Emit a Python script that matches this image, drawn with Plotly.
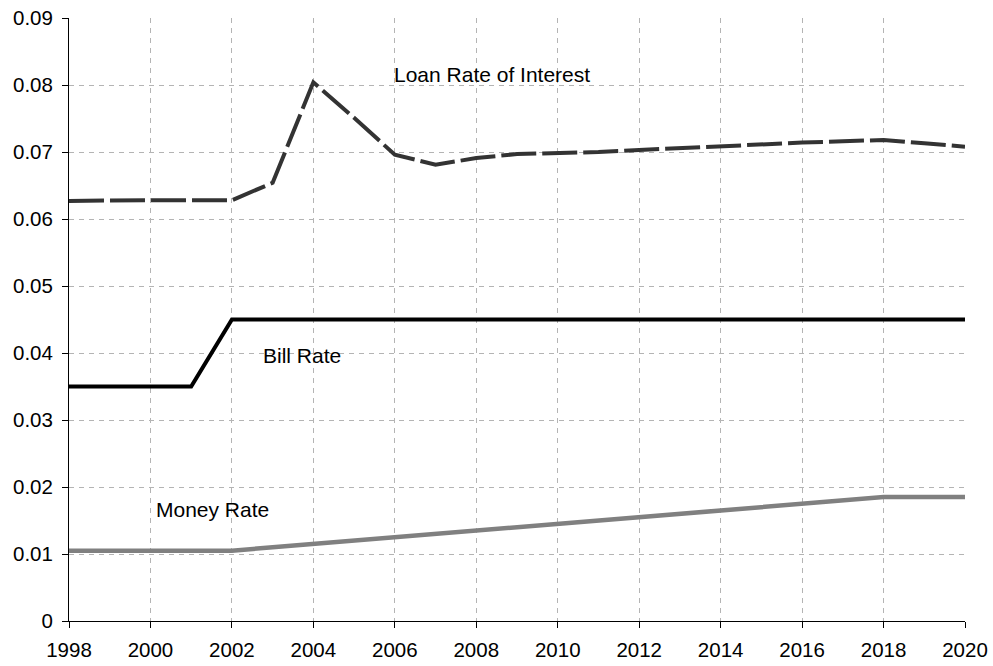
import plotly.graph_objects as go

years = list(range(1998, 2021))
loan_rate = [0.0627, 0.0628, 0.0628, 0.0628, 0.0628, 0.0654, 0.0804, 0.0751, 0.0696,
             0.0681, 0.0691, 0.0697, 0.0698, 0.0700, 0.0703, 0.0706, 0.0709, 0.0712,
             0.0714, 0.0716, 0.0718, 0.0713, 0.0708]
bill_rate = [0.035, 0.035, 0.035, 0.035] + [0.045] * 19
money_rate = [0.0105] * 5 + [0.0105 + 0.0005 * i for i in range(1, 17)] + [0.0185, 0.0185]

labels = ["Loan Rate of Interest", "Bill Rate", "Money Rate"]
label_x = [2005.92, 2002.72, 2000.09]
label_y = [0.0815, 0.0396, 0.0166]

xticks = list(range(1998, 2021, 2))
yticks = [0, 0.01, 0.02, 0.03, 0.04, 0.05, 0.06, 0.07, 0.08, 0.09]
ytick_text = ["0", "0.01", "0.02", "0.03", "0.04", "0.05", "0.06", "0.07", "0.08", "0.09"]

FONT = "Liberation Sans, Arial, sans-serif"

fig = go.Figure()
fig.add_trace(go.Scatter(x=years, y=money_rate, mode="lines",
                         line=dict(color="#808080", width=4.5), name="Money Rate"))
fig.add_trace(go.Scatter(x=years, y=bill_rate, mode="lines",
                         line=dict(color="#000000", width=4), name="Bill Rate"))
fig.add_trace(go.Scatter(x=years, y=loan_rate, mode="lines",
                         line=dict(color="#333333", width=4, dash="35px,6px"),
                         name="Loan Rate of Interest"))

for t, x, y in zip(labels, label_x, label_y):
    fig.add_annotation(x=x, y=y, text=t, showarrow=False, xanchor="left", yanchor="middle",
                       font=dict(family=FONT, size=21, color="#000"))

axis_common = dict(
    showgrid=True, gridcolor="#b4b4b4", griddash="5px,5px", gridwidth=1,
    showline=True, linecolor="#000", linewidth=1,
    ticks="outside", ticklen=6, tickcolor="#000", tickwidth=1,
    zeroline=False, automargin=False, ticklabeloverflow="allow",
    tickfont=dict(family=FONT, size=20.5, color="#000"),
)

fig.update_xaxes(range=[1998, 2020], tickvals=xticks, ticklabelstandoff=4, **axis_common)
fig.update_yaxes(range=[0, 0.09], tickvals=yticks, ticktext=ytick_text,
                 ticklabelstandoff=5, **axis_common)

fig.update_layout(
    width=993, height=666,
    margin=dict(l=69, r=28, t=18, b=45),
    plot_bgcolor="#ffffff", paper_bgcolor="#ffffff",
    showlegend=False,
)

fig.write_html(
    "out.html",
    config={"displayModeBar": False},
    post_script="document.body.style.margin='0';document.body.style.overflow='hidden';",
)
